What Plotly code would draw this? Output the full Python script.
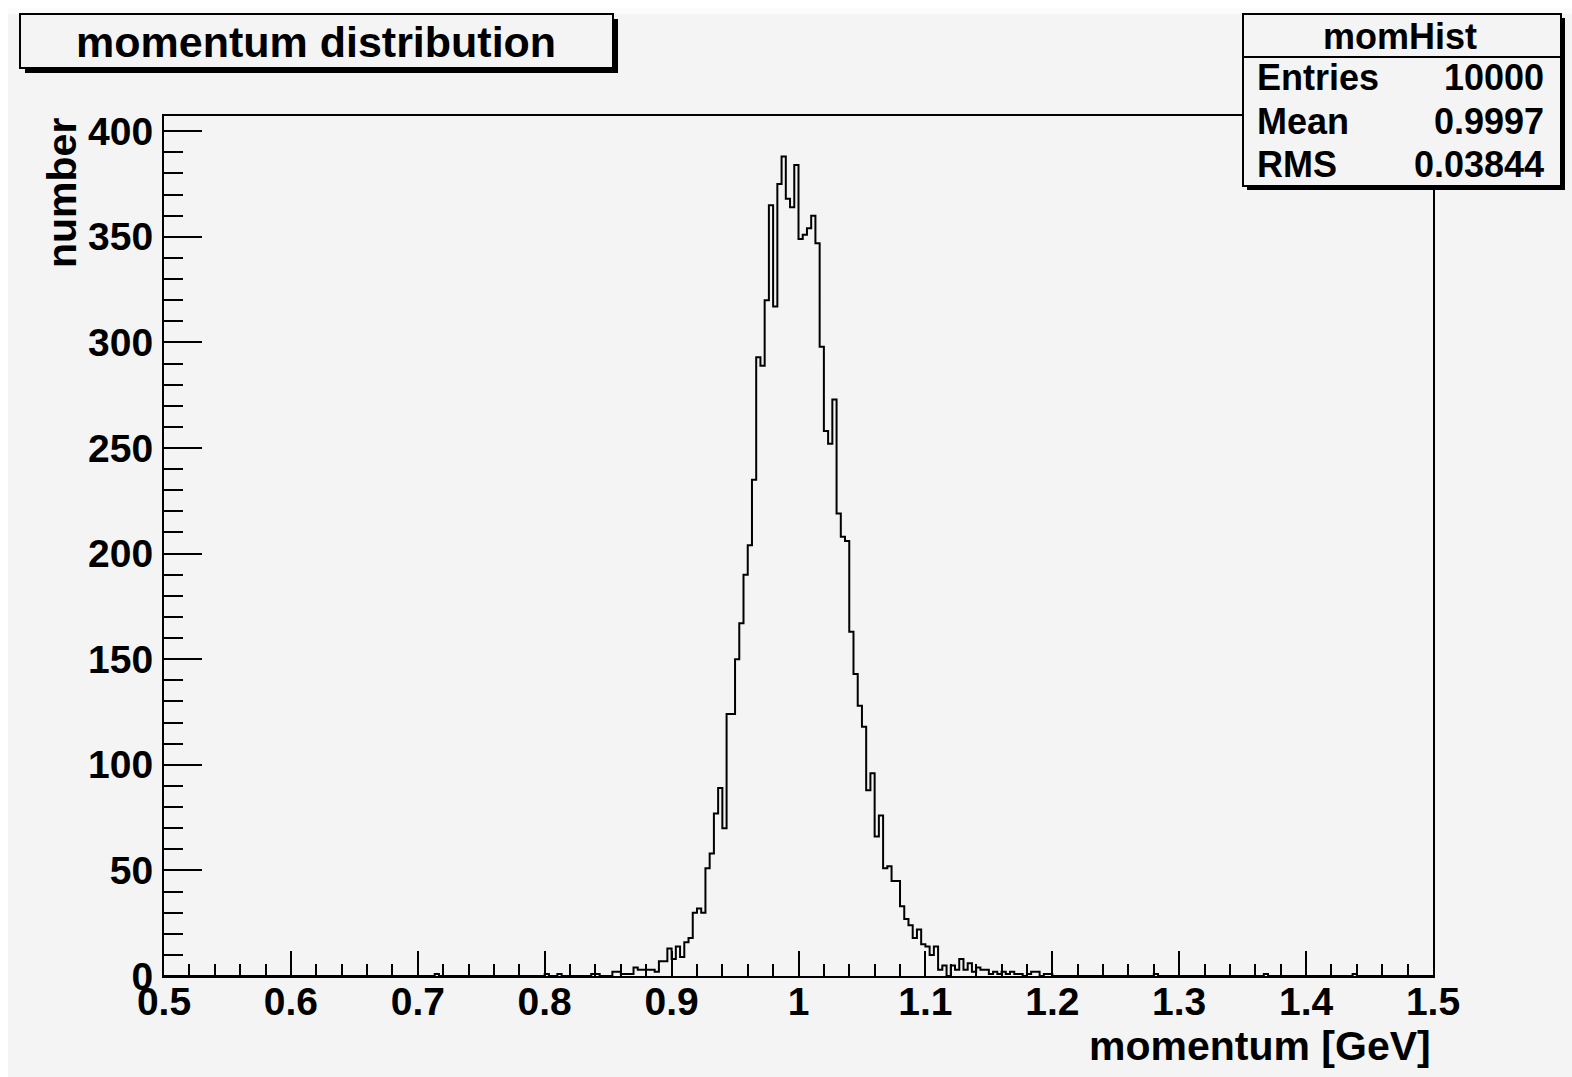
import plotly.graph_objects as go

# ---------------- data ----------------
x_min = 0.5
x_max = 1.5
n_bins = 300
counts = [
    0, 0, 0, 0, 0, 0, 0, 0, 0, 0, 0, 0, 0, 0, 0, 0, 0, 0, 0, 0,
    0, 0, 0, 0, 0, 0, 0, 0, 0, 0, 0, 0, 0, 0, 0, 0, 0, 0, 0, 0,
    0, 0, 0, 0, 0, 0, 0, 0, 0, 0, 0, 0, 0, 0, 0, 0, 0, 0, 0, 0,
    0, 0, 0, 0, 1, 0, 0, 0, 0, 0, 0, 0, 0, 0, 0, 0, 0, 0, 0, 0,
    0, 0, 0, 0, 0, 0, 0, 0, 0, 0, 1, 0, 0, 1, 0, 0, 0, 0, 0, 0,
    0, 1, 1, 0, 0, 0, 2, 2, 1, 1, 1, 4, 3, 3, 3, 3, 2, 7, 7, 13,
    8, 14, 9, 16, 18, 30, 32, 30, 51, 58, 77, 89, 70, 124, 124, 150, 167, 190, 204, 235,
    293, 289, 320, 365, 317, 375, 388, 368, 364, 384, 349, 351, 354, 360, 347, 298, 258, 252, 273, 219,
    208, 206, 163, 143, 128, 118, 88, 96, 66, 76, 51, 52, 45, 45, 33, 27, 24, 18, 22, 15,
    14, 10, 14, 3, 5, 0, 5, 3, 8, 3, 6, 2, 4, 3, 3, 1, 2, 1, 2, 1,
    2, 1, 1, 0, 1, 2, 2, 0, 1, 1, 0, 0, 0, 0, 0, 0, 0, 0, 0, 0,
    0, 0, 0, 0, 0, 0, 0, 0, 0, 0, 0, 0, 0, 0, 1, 0, 0, 0, 0, 0,
    0, 0, 0, 0, 0, 0, 0, 0, 0, 0, 0, 0, 0, 0, 0, 0, 0, 0, 0, 0,
    1, 0, 0, 0, 0, 0, 0, 0, 0, 0, 0, 0, 0, 0, 0, 0, 0, 0, 0, 0,
    0, 1, 0, 0, 0, 0, 0, 0, 0, 0, 0, 0, 0, 0, 0, 0, 0, 0, 0, 0,
]
x_tick_vals = [0.5, 0.6, 0.7, 0.8, 0.9, 1.0, 1.1, 1.2, 1.3, 1.4, 1.5]
x_tick_text = ["0.5", "0.6", "0.7", "0.8", "0.9", "1", "1.1", "1.2", "1.3", "1.4", "1.5"]
y_tick_vals = [0, 50, 100, 150, 200, 250, 300, 350, 400]
y_tick_text = ["0", "50", "100", "150", "200", "250", "300", "350", "400"]
title_text = "momentum distribution"
x_title = "momentum [GeV]"
y_title = "number"
stats_name = "momHist"
stats_labels = ["Entries", "Mean", "RMS"]
stats_values = ["10000", "0.9997", "0.03844"]
y_max = 407.2

# ---------------- geometry (page pixels; body margin offsets the figure by 8 px) ----------------
OFF = 8
W, H = 1572 - OFF, 1077 - OFF
FRAME_L, FRAME_R, FRAME_T, FRAME_B = 164, 1433, 116, 976   # page coords
L = FRAME_L - OFF
T = FRAME_T - OFF
PW = FRAME_R - FRAME_L
PH = FRAME_B - FRAME_T
R = W - L - PW
B = H - T - PH
BG = "#f4f4f4"
FONT = "Liberation Sans"


def px(xp):
    return (xp - FRAME_L) / PW


def py(yp):
    return (FRAME_B - yp) / PH


width = (x_max - x_min) / n_bins
edges = [x_min + i * width for i in range(n_bins + 1)]
ys = list(counts) + [counts[-1]]

fig = go.Figure()
fig.add_trace(go.Scatter(
    x=edges, y=ys, mode="lines", line=dict(color="black", width=2, shape="hv"),
    hoverinfo="skip", showlegend=False,
))

axis_font = dict(family=FONT, size=39, color="black", weight="bold")

fig.update_xaxes(
    range=[x_min, x_max], showgrid=False, zeroline=False,
    showline=True, linecolor="black", linewidth=2, mirror=True,
    ticks="inside", ticklen=25, tickwidth=2, tickcolor="black",
    tickvals=x_tick_vals, ticktext=x_tick_text, tickfont=axis_font,
    minor=dict(ticks="inside", ticklen=12, tickwidth=2, tickcolor="black", dtick=0.02, showgrid=False),
    ticklabelstandoff=-10,
)
fig.update_yaxes(
    range=[0, y_max], showgrid=False, zeroline=False,
    showline=True, linecolor="black", linewidth=2, mirror=True,
    ticks="inside", ticklen=38, tickwidth=2, tickcolor="black",
    tickvals=y_tick_vals, ticktext=y_tick_text, tickfont=axis_font,
    minor=dict(ticks="inside", ticklen=19, tickwidth=2, tickcolor="black", dtick=10, showgrid=False),
    ticklabelstandoff=1,
)

shapes = []
annotations = []

# light strip at the top edge of the canvas
shapes.append(dict(type="rect", xref="paper", yref="paper", x0=px(OFF), x1=px(1572), y0=py(OFF), y1=py(14),
                   fillcolor="#fcfcfc", line=dict(width=0), layer="below"))

# title box with shadow
tb = (20, 14, 613, 68)
shapes.append(dict(type="rect", xref="paper", yref="paper",
                   x0=px(tb[0] + 5), x1=px(tb[2] + 5), y0=py(tb[1] + 5), y1=py(tb[3] + 5),
                   fillcolor="black", line=dict(width=0), layer="above"))
shapes.append(dict(type="rect", xref="paper", yref="paper",
                   x0=px(tb[0]), x1=px(tb[2]), y0=py(tb[1]), y1=py(tb[3]),
                   fillcolor=BG, line=dict(color="black", width=2), layer="above"))
annotations.append(dict(xref="paper", yref="paper", x=px(316), y=py(42),
                        text=title_text, showarrow=False, xanchor="center", yanchor="middle",
                        font=dict(family=FONT, size=43, color="black", weight="bold")))

# stats box with shadow
sb = (1243, 14, 1561, 186)
shapes.append(dict(type="rect", xref="paper", yref="paper",
                   x0=px(sb[0] + 4), x1=px(sb[2] + 4), y0=py(sb[1] + 4), y1=py(sb[3] + 4),
                   fillcolor="black", line=dict(width=0), layer="above"))
shapes.append(dict(type="rect", xref="paper", yref="paper",
                   x0=px(sb[0]), x1=px(sb[2]), y0=py(sb[1]), y1=py(sb[3]),
                   fillcolor=BG, line=dict(color="black", width=2), layer="above"))
shapes.append(dict(type="line", xref="paper", yref="paper",
                   x0=px(sb[0]), x1=px(sb[2]), y0=py(57), y1=py(57),
                   line=dict(color="black", width=2), layer="above"))
stats_font = dict(family=FONT, size=36, color="black", weight="bold")
annotations.append(dict(xref="paper", yref="paper", x=px(1400), y=py(37),
                        text=stats_name, showarrow=False, xanchor="center", yanchor="middle",
                        font=stats_font))
row_y = [78, 121, 164]
for lab, val, yy in zip(stats_labels, stats_values, row_y):
    annotations.append(dict(xref="paper", yref="paper", x=px(1255), y=py(yy), text=lab,
                            showarrow=False, xanchor="left", yanchor="middle", font=stats_font))
    annotations.append(dict(xref="paper", yref="paper", x=px(1546), y=py(yy), text=val,
                            showarrow=False, xanchor="right", yanchor="middle", font=stats_font))

# axis titles
annotations.append(dict(xref="paper", yref="paper", x=1.0, y=py(1046), text=x_title,
                        showarrow=False, xanchor="right", yanchor="middle",
                        font=dict(family=FONT, size=41, color="black", weight="bold")))
annotations.append(dict(xref="paper", yref="paper", x=px(62), y=1.0, text=y_title, textangle=-90,
                        showarrow=False, xanchor="center", yanchor="top",
                        font=dict(family=FONT, size=41, color="black", weight="bold")))

fig.update_layout(
    width=W, height=H, autosize=False,
    margin=dict(l=L, r=R, t=T, b=B, pad=0),
    paper_bgcolor=BG, plot_bgcolor=BG,
    shapes=shapes, annotations=annotations,
    showlegend=False,
)

fig.write_html(
    "out.html",
    post_script="document.body.style.margin='8px 0 0 8px';document.documentElement.style.overflow='hidden';",
)
